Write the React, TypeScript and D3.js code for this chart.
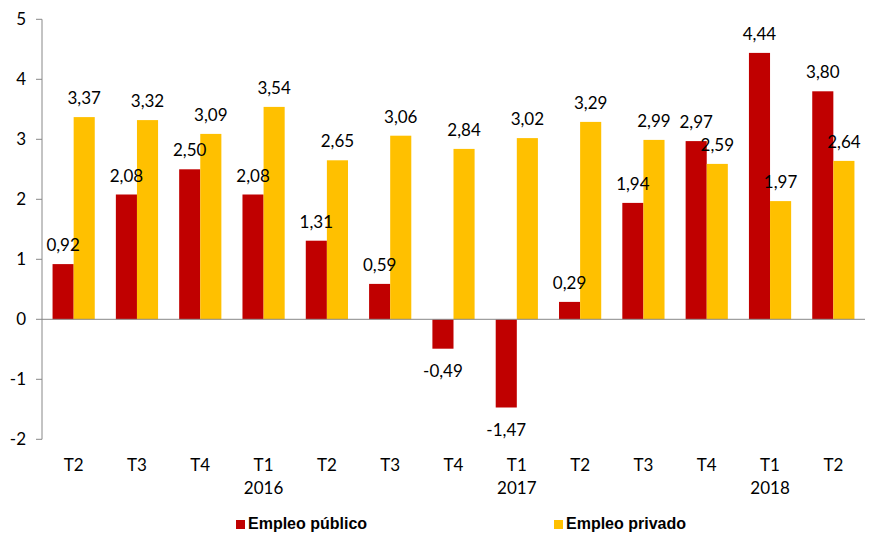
import React from "react";
import * as d3 from "d3";

const quarters = ["T2", "T3", "T4", "T1", "T2", "T3", "T4", "T1", "T2", "T3", "T4", "T1", "T2"];
const years = ["", "", "", "2016", "", "", "", "2017", "", "", "", "2018", ""];
const publico = [0.92, 2.08, 2.5, 2.08, 1.31, 0.59, -0.49, -1.47, 0.29, 1.94, 2.97, 4.44, 3.8];
const privado = [3.37, 3.32, 3.09, 3.54, 2.65, 3.06, 2.84, 3.02, 3.29, 2.99, 2.59, 1.97, 2.64];
const yTicks = [-2, -1, 0, 1, 2, 3, 4, 5];
const seriesNames = ["Empleo público", "Empleo privado"];
const colors = ["#C00000", "#FFC000"];

const fmt = (v: number) => v.toFixed(2).replace(".", ",");

export default function App() {
  const W = 880, H = 533;
  const x0 = 42, x1 = 865;
  const y = d3.scaleLinear().domain([-2, 5]).range([439.3, 19.3]);
  const xb = d3.scaleBand<number>().domain(d3.range(quarters.length)).range([x0, x1]).paddingInner(0).paddingOuter(0);
  const bw = xb.bandwidth();
  const barW = bw / 3;
  const font = "Lato, 'Open Sans', sans-serif";
  const series = [publico, privado];
  const fs = 17;

  const bars = series.flatMap((s, si) =>
    s.map((v, i) => {
      const bx = (xb(i) as number) + bw / 6 + si * barW;
      const top = y(Math.max(0, v));
      const bot = y(Math.min(0, v));
      return { si, i, v, bx, top, bot };
    })
  );

  return (
    <svg width={W} height={H} style={{ position: "absolute", left: 0, top: 0 }}>
      <rect width={W} height={H} fill="#fff" />
      {bars.map((b) => (
        <rect key={`r${b.si}-${b.i}`} x={b.bx} y={b.top} width={barW} height={b.bot - b.top} fill={colors[b.si]} />
      ))}
      <line x1={x0} x2={x0} y1={y(5)} y2={y(-2)} stroke="#888" />
      <line x1={x0} x2={x1} y1={y(0)} y2={y(0)} stroke="#888" />
      {bars.map((b) => (
        <text
          key={`t${b.si}-${b.i}`}
          x={b.bx + barW / 2}
          y={b.v >= 0 ? b.top - 13 : b.bot + 28}
          textAnchor="middle"
          fontFamily={font}
          fontSize={fs}
          fill="#000"
        >
          {fmt(b.v)}
        </text>
      ))}
      {yTicks.map((t) => (
        <g key={t}>
          <line x1={x0 - 6} x2={x0} y1={y(t)} y2={y(t)} stroke="#888" />
          <text x={26} y={y(t) + 6} textAnchor="end" fontFamily={font} fontSize={fs} fill="#000">
            {t}
          </text>
        </g>
      ))}
      {quarters.map((q, i) => {
        const cx = (xb(i) as number) + bw / 2;
        return (
          <g key={i}>
            <text x={cx} y={471} textAnchor="middle" fontFamily={font} fontSize={fs} fill="#000">
              {q}
            </text>
            {years[i] && (
              <text x={cx} y={494} textAnchor="middle" fontFamily={font} fontSize={fs} fill="#000">
                {years[i]}
              </text>
            )}
          </g>
        );
      })}
      {seriesNames.map((n, i) => {
        const lx = i === 0 ? 236 : 554;
        return (
          <g key={n}>
            <rect x={lx} y={520} width={9} height={9} fill={colors[i]} />
            <text x={lx + 12} y={529} fontFamily="Arial, 'Liberation Sans', sans-serif" fontWeight="bold" fontSize={16} fill="#000">
              {n}
            </text>
          </g>
        );
      })}
    </svg>
  );
}
